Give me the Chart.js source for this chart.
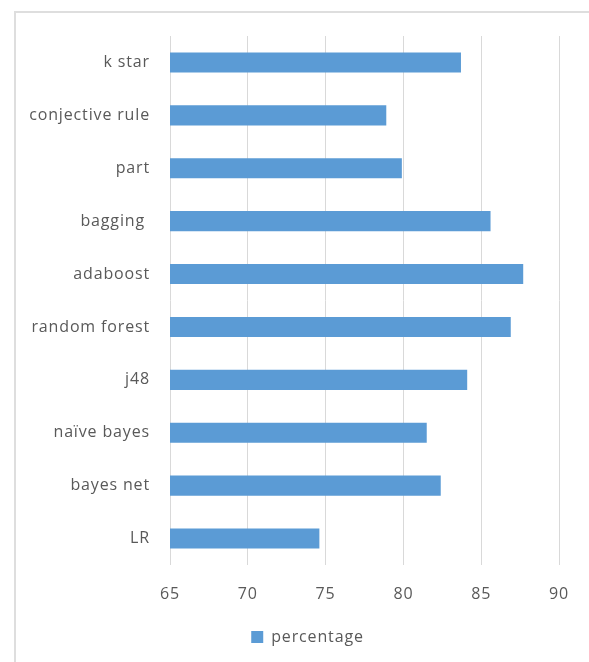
<!DOCTYPE html>
<html>
<head>
<meta charset="utf-8">
<script src="https://cdn.jsdelivr.net/npm/chart.js@4"></script>
<style>
  body { margin: 0; background: #fff; }
  #wrap { position: relative; width: 589px; height: 662px; }
  #frame { position: absolute; left: 14px; top: 11px; right: 0; bottom: 0;
           border-left: 2px solid #dedede; border-top: 2px solid #dedede; }
  canvas { position: absolute; left: 0; top: 0; }
</style>
</head>
<body>
<div id="wrap">
  <div id="frame"></div>
  <canvas id="chart_percentage" width="589" height="662"></canvas>
</div>
<script>
var categories = ['k star', 'conjective rule', 'part', 'bagging ', 'adaboost', 'random forest', 'j48', 'naïve bayes', 'bayes net', 'LR'];
var percentage = [83.7, 78.9, 79.9, 85.6, 87.7, 86.9, 84.1, 81.5, 82.4, 74.6];
var xTicks = [65, 70, 75, 80, 85, 90];

var labelFont = { family: "'Open Sans', sans-serif", size: 16 };

// wider letter spacing, like the original office chart text
var spacingPlugin = {
    id: 'letterSpacing',
    beforeUpdate: function(chart) { chart.ctx.letterSpacing = '0.85px'; },
    beforeDraw: function(chart) { chart.ctx.letterSpacing = '0.85px'; }
};

// the legend sits a bit right of the page centre
var legendShift = {
    id: 'legendShift',
    afterLayout: function(chart) {
        chart.legend.left += 28;
        chart.legend.right += 28;
    }
};

var chart_percentage = new Chart(document.getElementById('chart_percentage'), {
    type: 'bar',
    data: {
        labels: categories,
        datasets: [
            {
                label: 'percentage',
                data: percentage,
                backgroundColor: '#5b9bd5',
                borderWidth: 0,
                barPercentage: 0.38,
                categoryPercentage: 1
            }
        ]
    },
    options: {
        indexAxis: 'y',
        animation: false,
        responsive: false,
        layout: {
            padding: { top: 36, right: 30, bottom: 7, left: 0 }
        },
        plugins: {
            legend: {
                position: 'bottom',
                labels: {
                    color: '#595959',
                    font: labelFont,
                    boxWidth: 12,
                    boxHeight: 12,
                    padding: 10
                }
            },
            tooltip: { enabled: false }
        },
        scales: {
            x: {
                type: 'linear',
                min: 65,
                max: 90,
                afterBuildTicks: function(scale) {
                    scale.ticks = xTicks.map(function(v) { return { value: v }; });
                },
                afterFit: function(scale) { scale.height = 54; },
                grid: { color: '#d9d9d9', lineWidth: 1, drawTicks: false },
                border: { display: false },
                ticks: { color: '#595959', font: labelFont, padding: 20 }
            },
            y: {
                afterFit: function(scale) { scale.width = 170; },
                grid: { display: false, drawTicks: false },
                border: { display: false },
                ticks: { color: '#595959', font: labelFont, padding: 20 }
            }
        }
    },
    plugins: [spacingPlugin, legendShift]
});
</script>
</body>
</html>
